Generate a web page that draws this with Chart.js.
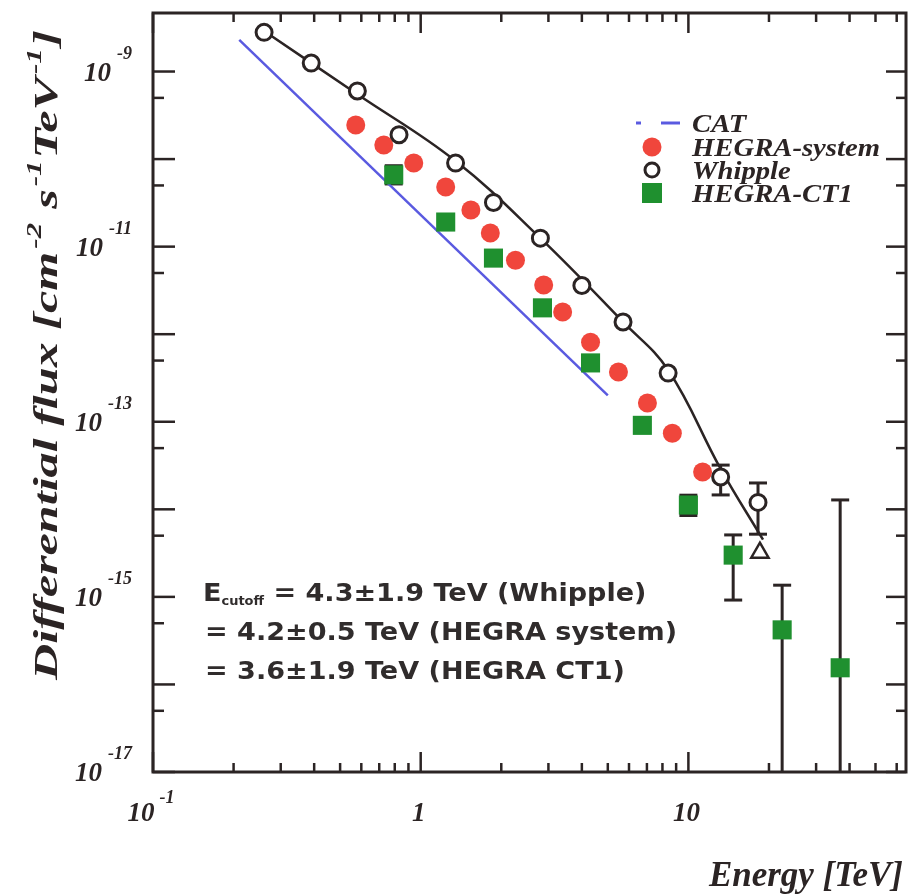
<!DOCTYPE html>
<html>
<head>
<meta charset="utf-8">
<script src="https://cdn.jsdelivr.net/npm/chart.js@4.4.1/dist/chart.umd.min.js"></script>
<style>
  html, body { margin: 0; padding: 0; background: #fff; }
  canvas { display: block; }
</style>
</head>
<body>
<canvas id="spec" width="908" height="896"></canvas>
<script>
// energy in TeV, flux in cm^-2 s^-1 TeV^-1
var whippleE = [0.26, 0.39, 0.58, 0.83, 1.35, 1.87, 2.8, 4.0, 5.7, 8.4, 13.2, 18.2];
var whippleF = [2.8e-9, 1.25e-9, 6.0e-10, 1.9e-10, 9.0e-11, 3.2e-11, 1.25e-11, 3.6e-12, 1.38e-12, 3.6e-13, 2.34e-14, 1.2e-14];
var whippleLo = [null, null, null, null, null, null, null, null, null, null, 1.46e-14, 5.2e-15];
var whippleHi = [null, null, null, null, null, null, null, null, null, null, 3.2e-14, 2.0e-14];
var whippleLimE = [18.5];
var whippleLimF = [3.2e-15];

// smooth Whipple fit curve
var fitE = [0.26, 0.58, 1.35, 2.8, 5.7, 8.4, 13.2, 19.0];
var fitF = [2.9e-9, 5.5e-10, 9.5e-11, 1.25e-11, 1.38e-12, 3.9e-13, 2.9e-14, 4.5e-15];

var catE = [0.21, 5.0];
var catF = [2.3e-9, 2.0e-13];

var hsE = [0.572, 0.728, 0.942, 1.24, 1.54, 1.82, 2.26, 2.88, 3.39, 4.31, 5.48, 7.03, 8.71, 11.3];
var hsF = [2.45e-10, 1.45e-10, 9.0e-11, 4.8e-11, 2.62e-11, 1.43e-11, 7.0e-12, 3.65e-12, 1.79e-12, 8.1e-13, 3.7e-13, 1.64e-13, 7.4e-14, 2.67e-14];

var ct1E = [0.793, 1.24, 1.87, 2.85, 4.31, 6.73, 10.0, 14.7, 22.4, 36.9];
var ct1F = [6.6e-11, 1.91e-11, 7.4e-12, 2.0e-12, 4.7e-13, 9.1e-14, 1.12e-14, 3.0e-15, 4.2e-16, 1.55e-16];
var ct1Lo = [5.2e-11, null, null, null, null, null, 8.5e-15, 9.2e-16, 1e-18, 1e-18];
var ct1Hi = [8.4e-11, null, null, null, null, null, 1.45e-14, 5.1e-15, 1.36e-15, 1.28e-14];

// ticks
var xMajor = [0.1, 1, 10];
var xMinor = [0.2, 0.3, 0.4, 0.5, 0.6, 0.7, 0.8, 0.9, 2, 3, 4, 5, 6, 7, 8, 9, 20, 30, 40, 50, 60];
var xLabelBase = ['10', '1', '10'];
var xLabelExp = ['-1', '', ''];
var yMajor = [1e-17, 1e-16, 1e-15, 1e-14, 1e-13, 1e-12, 1e-11, 1e-10, 1e-9];
var yMinor = [5e-17, 5e-16, 5e-15, 5e-14, 5e-13, 5e-12, 5e-11, 5e-10];
var yLabelVal = [1e-9, 1e-11, 1e-13, 1e-15, 1e-17];
var yLabelExp = ['-9', '-11', '-13', '-15', '-17'];

var legendNames = ['CAT', 'HEGRA-system', 'Whipple', 'HEGRA-CT1'];
var noteLines = [
  ['E', 'cutoff', ' = 4.3\u00b11.9 TeV (Whipple)'],
  ['', '', '= 4.2\u00b10.5 TeV (HEGRA system)'],
  ['', '', '= 3.6\u00b11.9 TeV (HEGRA CT1)']
];

var ink = '#2b2424';
var red = '#f0463c';
var green = '#1f902f';
var blue = '#5a5ae0';

function pts(xs, ys) {
  return xs.map(function (x, i) { return { x: x, y: ys[i] }; });
}

function line(ctx, x1, y1, x2, y2) {
  ctx.beginPath(); ctx.moveTo(x1, y1); ctx.lineTo(x2, y2); ctx.stroke();
}

// vertical error bars with caps
function bars(ctx, chart, xs, lo, hi, color) {
  var sx = chart.scales.x, sy = chart.scales.y;
  ctx.strokeStyle = color; ctx.lineWidth = 3;
  xs.forEach(function (e, i) {
    if (lo[i] == null) return;
    var px = sx.getPixelForValue(e);
    var y1 = sy.getPixelForValue(hi[i]), y2 = sy.getPixelForValue(lo[i]);
    line(ctx, px, y1, px, y2);
    line(ctx, px - 9, y1, px + 9, y1);
    if (lo[i] > 1e-17) line(ctx, px - 9, y2, px + 9, y2);
  });
}

var serif = '"Liberation Serif", "DejaVu Serif", serif';

var decor = {
  id: 'decor',
  beforeDatasetsDraw: function (chart) {
    var ctx = chart.ctx, a = chart.chartArea;
    ctx.save();
    ctx.beginPath(); ctx.rect(a.left, a.top, a.right - a.left, a.bottom - a.top); ctx.clip();
    bars(ctx, chart, ct1E, ct1Lo, ct1Hi, ink);
    bars(ctx, chart, whippleE, whippleLo, whippleHi, ink);
    ctx.restore();
  },
  afterDraw: function (chart) {
    var ctx = chart.ctx, a = chart.chartArea;
    var sx = chart.scales.x, sy = chart.scales.y;
    ctx.save();
    ctx.strokeStyle = ink; ctx.fillStyle = ink;
    ctx.lineWidth = 3;
    ctx.strokeRect(a.left, a.top, a.right - a.left, a.bottom - a.top);

    ctx.lineWidth = 2.5;
    xMajor.forEach(function (v) {
      var p = sx.getPixelForValue(v);
      line(ctx, p, a.bottom, p, a.bottom - 20); line(ctx, p, a.top, p, a.top + 20);
    });
    xMinor.forEach(function (v) {
      var p = sx.getPixelForValue(v);
      line(ctx, p, a.bottom, p, a.bottom - 9); line(ctx, p, a.top, p, a.top + 9);
    });
    yMajor.forEach(function (v) {
      var p = sy.getPixelForValue(v);
      line(ctx, a.left, p, a.left + 22, p); line(ctx, a.right, p, a.right - 20, p);
    });
    yMinor.forEach(function (v) {
      var p = sy.getPixelForValue(v);
      line(ctx, a.left, p, a.left + 11, p); line(ctx, a.right, p, a.right - 10, p);
    });

    // tick labels
    var big = 'bold italic 27px ' + serif, small = 'bold italic 18px ' + serif;
    ctx.textBaseline = 'alphabetic';
    yLabelVal.forEach(function (v, i) {
      var p = sy.getPixelForValue(v);
      ctx.font = small;
      var we = ctx.measureText(yLabelExp[i]).width;
      ctx.textAlign = 'left';
      ctx.fillText(yLabelExp[i], 132 - we, p - 13);
      ctx.font = big;
      ctx.textAlign = 'right';
      ctx.fillText('10', 132 - we - 6, p + 9);
    });
    xMajor.forEach(function (v, i) {
      var p = sx.getPixelForValue(v);
      ctx.font = big;
      var wb = ctx.measureText(xLabelBase[i]).width;
      ctx.font = small;
      var we = xLabelExp[i] ? ctx.measureText(xLabelExp[i]).width + 5 : 0;
      var x0 = p - (wb + we) / 2 - 2;
      ctx.textAlign = 'left';
      ctx.font = big;
      ctx.fillText(xLabelBase[i], x0, 821);
      if (xLabelExp[i]) { ctx.font = small; ctx.fillText(xLabelExp[i], x0 + wb + 5, 803); }
    });

    // y title, rotated
    var parts = [['Differential flux [cm', 0], ['-2', 1], [' s', 0], ['-1', 1], ['TeV', 0], ['-1', 1], [']', 0]];
    var fs = 34;
    var tw = 0;
    parts.forEach(function (p) {
      ctx.font = 'bold italic ' + (p[1] ? fs * 0.62 : fs) + 'px ' + serif;
      tw += ctx.measureText(p[0]).width + (p[1] ? 3 : 0);
    });
    var sc = 650 / tw;
    ctx.save();
    ctx.translate(57, 680);
    ctx.rotate(-Math.PI / 2);
    ctx.scale(sc, 1);
    var cx = 0;
    parts.forEach(function (p) {
      ctx.font = 'bold italic ' + (p[1] ? fs * 0.62 : fs) + 'px ' + serif;
      ctx.textAlign = 'left';
      ctx.fillText(p[0], cx + (p[1] ? 2 : 0), p[1] ? -16 : 0);
      cx += ctx.measureText(p[0]).width + (p[1] ? 3 : 0);
    });
    ctx.restore();

    // x title
    ctx.font = 'bold italic 35px ' + serif;
    ctx.textAlign = 'right';
    ctx.fillText('Energy [TeV]', 903, 886);

    // legend
    var rows = [123, 147, 170, 193];
    ctx.font = 'bold italic 26px ' + serif;
    var lsc = 188 / ctx.measureText('HEGRA-system').width;
    legendNames.forEach(function (name, i) {
      var y = rows[i];
      if (i === 0) {
        ctx.strokeStyle = blue; ctx.lineWidth = 3;
        line(ctx, 636, y, 641, y); line(ctx, 661, y, 680, y);
      } else if (i === 1) {
        ctx.fillStyle = red; ctx.beginPath(); ctx.arc(652, y, 9.5, 0, Math.PI * 2); ctx.fill();
      } else if (i === 2) {
        ctx.strokeStyle = ink; ctx.lineWidth = 3; ctx.beginPath(); ctx.arc(652, y, 7, 0, Math.PI * 2); ctx.stroke();
      } else {
        ctx.fillStyle = green; ctx.fillRect(642, y - 10, 20, 20);
      }
      ctx.save();
      ctx.fillStyle = ink;
      ctx.translate(692, y + 9);
      ctx.scale(lsc, 1);
      ctx.textAlign = 'left';
      ctx.fillText(name, 0, 0);
      ctx.restore();
    });

    // cutoff energies
    ctx.fillStyle = '#302c2c';
    ctx.font = 'bold 25px "DejaVu Sans", sans-serif';
    var nsc = 472 / ctx.measureText(noteLines[1][2]).width;
    var base = [601, 640, 679];
    noteLines.forEach(function (ln, i) {
      ctx.save();
      ctx.translate(i === 0 ? 203 : 205, base[i]);
      ctx.scale(nsc, 1);
      ctx.textAlign = 'left';
      var x = 0;
      if (ln[0]) {
        ctx.font = 'bold 25px "DejaVu Sans", sans-serif';
        ctx.fillText(ln[0], 0, 0);
        x += ctx.measureText(ln[0]).width;
        ctx.font = 'bold 12px "DejaVu Sans", sans-serif';
        ctx.fillText(ln[1], x, 4);
        x += ctx.measureText(ln[1]).width;
      }
      ctx.font = 'bold 25px "DejaVu Sans", sans-serif';
      ctx.fillText(ln[2], x, 0);
      ctx.restore();
    });
    ctx.restore();
  }
};

var chart = new Chart(document.getElementById('spec'), {
  type: 'scatter',
  data: {
    datasets: [
      { label: 'Whipple', data: pts(whippleE, whippleF), pointStyle: 'circle', pointRadius: 8,
        backgroundColor: '#ffffff', borderColor: ink, borderWidth: 3 },
      { label: 'Whipple limit', data: pts(whippleLimE, whippleLimF), pointStyle: 'triangle', pointRadius: 10,
        backgroundColor: '#ffffff', borderColor: ink, borderWidth: 2.5 },
      { label: 'HEGRA-CT1', data: pts(ct1E, ct1F), pointStyle: 'rect', pointRadius: 13.5,
        backgroundColor: green, borderWidth: 0 },
      { label: 'HEGRA-system', data: pts(hsE, hsF), pointStyle: 'circle', pointRadius: 9.5,
        backgroundColor: red, borderWidth: 0 },
      { label: 'Whipple fit', data: pts(fitE, fitF), showLine: true, tension: 0.4,
        borderColor: ink, borderWidth: 2.5, pointRadius: 0 },
      { label: 'CAT', data: pts(catE, catF), showLine: true,
        borderColor: blue, borderWidth: 2.5, pointRadius: 0 }
    ]
  },
  options: {
    responsive: false,
    animation: false,
    layout: { autoPadding: false, padding: { left: 153, right: 2, top: 13, bottom: 124 } },
    plugins: { legend: { display: false }, tooltip: { enabled: false } },
    scales: {
      x: { type: 'logarithmic', min: 0.1, max: 65, display: false },
      y: { type: 'logarithmic', min: 1e-17, max: 4.66e-9, display: false }
    }
  },
  plugins: [decor]
});
</script>
</body>
</html>
